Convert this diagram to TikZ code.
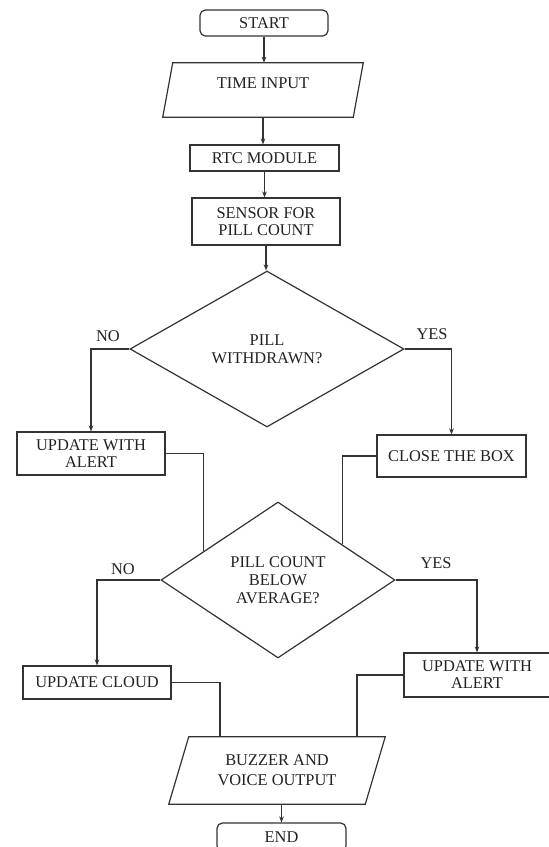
\documentclass[tikz,border=0pt]{standalone}
\usepackage{fontspec}
\setmainfont{Liberation Serif}
\usetikzlibrary{shapes.geometric,arrows.meta,calc}
\definecolor{linec}{HTML}{333333}
\definecolor{textc}{HTML}{222222}
\begin{document}
\begin{tikzpicture}[x=0.75pt,y=-0.75pt,
  sz/.style 2 args={minimum width={#1*0.75pt},minimum height={#2*0.75pt}},
  txt/.style={text=textc,align=center,font=\fontsize{12.3}{12.75}\selectfont},
  box/.style={txt,draw=linec,line width=0.9pt,rectangle,inner sep=0pt},
  term/.style={box,rounded corners=4pt},
  shapebox/.style={rectangle,inner sep=0pt,txt},
  dec/.style={txt,draw=linec,line width=0.9pt,shape=diamond,inner sep=0pt,font=\fontsize{12.3}{13.5}\selectfont},
  lbl/.style={txt},
  line/.style={draw=linec,line width=0.9pt},
  arr/.style={line,-{Stealth[length=4.5pt,width=3.5pt]}}
]
\useasboundingbox (0,0) rectangle (549,847);
\fill[white] (0,0) rectangle (549,847);

% nodes
\node[term,sz={128}{26}] (start) at (264,23) {START};
\node[shapebox,sz={200}{54}] (tin) at (263,90) {};
\draw[line] ($(tin.north west)+(10,0)$) -- (tin.north east) -- ($(tin.south east)+(-10,0)$) -- (tin.south west) -- cycle;
\node[txt] (tint) at ($(tin.center)+(0,-7)$) {TIME INPUT};
\node[box,sz={149}{26}] (rtc) at (264.5,158) {RTC MODULE};
\node[box,sz={148}{47}] (sen) at (266,221.5) {SENSOR FOR\\PILL COUNT};
\node[dec,sz={274}{156}] (d1) at (267,349) {PILL\\WITHDRAWN?};
\node[box,sz={148}{43}] (ua1) at (91,453.5) {UPDATE WITH\\ALERT};
\node[box,sz={149}{42}] (cb) at (451.5,456) {CLOSE THE BOX};
\node[dec,sz={234}{156}] (d2) at (278,580) {PILL COUNT\\BELOW\\AVERAGE?};
\node[box,sz={148}{33}] (uc) at (97,682.5) {UPDATE CLOUD};
\node[box,sz={146}{44}] (ua2) at (477,675) {UPDATE WITH\\ALERT};
\node[shapebox,sz={216}{67},font=\fontsize{12.3}{15}\selectfont] (bz) at (277,770.5) {BUZZER AND\\VOICE OUTPUT};
\draw[line] ($(bz.north west)+(20,0)$) -- (bz.north east) -- ($(bz.south east)+(-20,0)$) -- (bz.south west) -- cycle;
\node[term,sz={129}{28}] (en) at (281.5,837) {END};

% labels
\node[lbl] (no1) at (108,336) {NO};
\node[lbl] (yes1) at (432,334) {YES};
\node[lbl] (no2) at (123,569) {NO};
\node[lbl] (yes2) at (436,563) {YES};

% connectors
\draw[arr] (start.south) -- (start.south |- tin.north);
\draw[arr] (tin.south) -- (tin.south |- rtc.north);
\draw[arr] (rtc.south) -- (rtc.south |- sen.north);
\draw[arr] (sen.south) -- (sen.south |- d1.north);
\draw[arr] (d1.west) -| (ua1.north);
\draw[arr] (d1.east) -| (cb.north);
\draw[line] (ua1.east) -| (d2.159);
\draw[line] (cb.west) -| (d2.29);
\draw[arr] (d2.west) -| (uc.north);
\draw[arr] (d2.east) -| (ua2.north);
\draw[line] (uc.east) -| ($(bz.north)+(-57,0)$);
\draw[line] (ua2.west) -| ($(bz.north)+(80,0)$);
\draw[arr] (en.north |- bz.south) -- (en.north);
\end{tikzpicture}
\end{document}
